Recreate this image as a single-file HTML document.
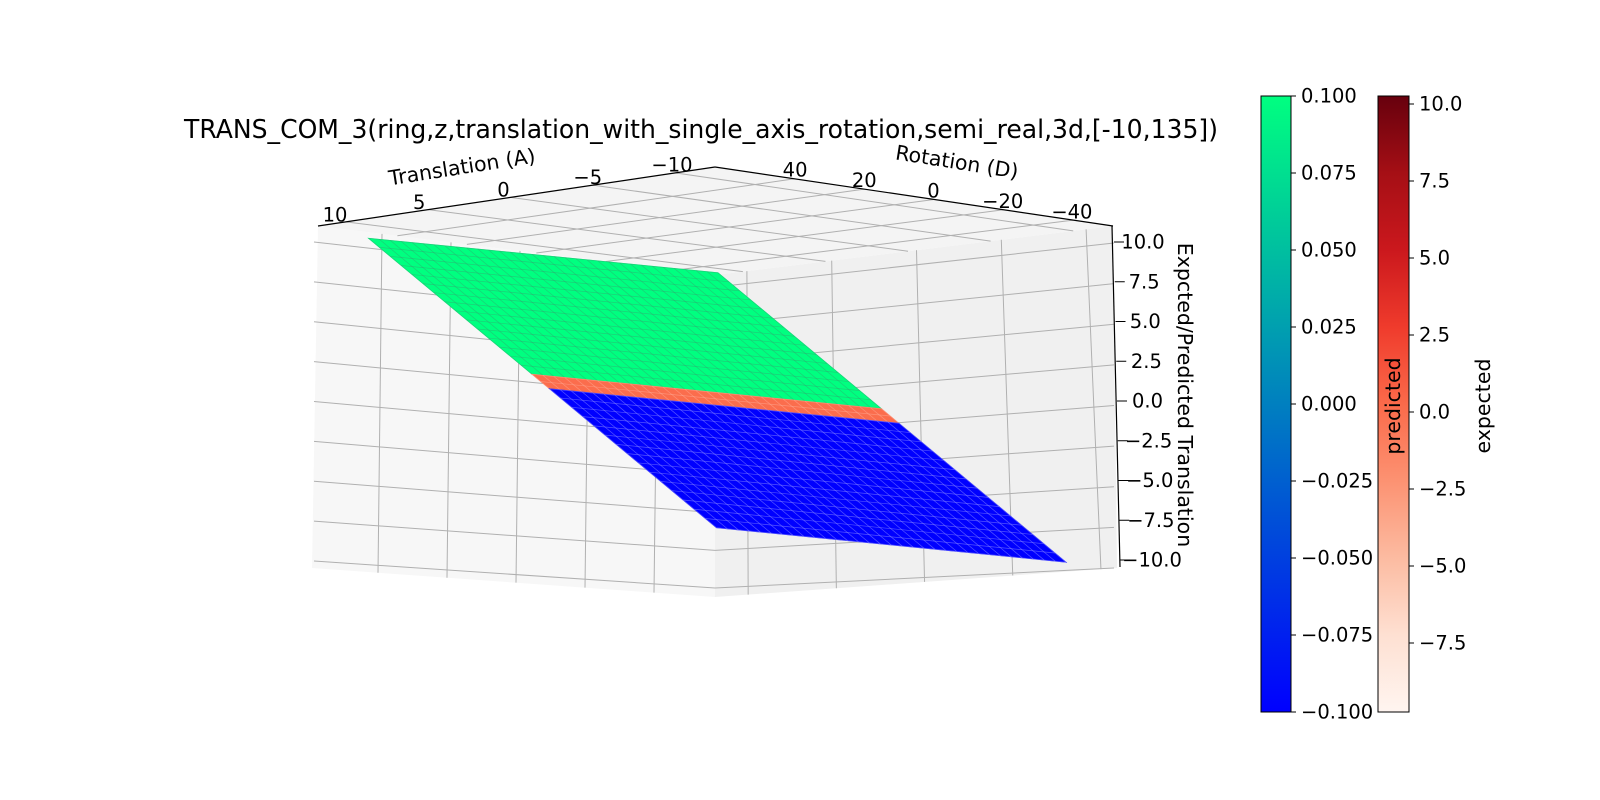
<!DOCTYPE html>
<html><head><meta charset="utf-8"><style>
html,body{margin:0;padding:0;background:#fff;}
svg{display:block;font-family:"DejaVu Sans","Liberation Sans",sans-serif;}
</style></head><body>
<svg id="chart" width="1600" height="800" viewBox="0 0 1600 800" xmlns="http://www.w3.org/2000/svg">
<defs>
<linearGradient id="winterGrad" x1="0" y1="1" x2="0" y2="0">
<stop offset="0" stop-color="#0000ff"/><stop offset="1" stop-color="#00ff80"/>
</linearGradient>
<linearGradient id="redsGrad" x1="0" y1="1" x2="0" y2="0">
<stop offset="0" stop-color="#fff5f0"/><stop offset="0.125" stop-color="#fee0d2"/><stop offset="0.25" stop-color="#fcbba1"/><stop offset="0.375" stop-color="#fc9272"/><stop offset="0.5" stop-color="#fb6a4a"/><stop offset="0.625" stop-color="#ef3b2c"/><stop offset="0.75" stop-color="#cb181d"/><stop offset="0.875" stop-color="#a50f15"/><stop offset="1" stop-color="#67000d"/>
</linearGradient>
</defs>
<text x="701" y="138" font-size="26" text-anchor="middle" textLength="1034" lengthAdjust="spacingAndGlyphs" fill="#000">TRANS_COM_3(ring,z,translation_with_single_axis_rotation,semi_real,3d,[-10,135])</text>
<g id="panes"></g>
<g id="surface"></g>
<g id="axes"></g>
<g id="cbars"></g>
</svg>
<script>
// ---- data ----
const translationTicks = [10, 5, 0, -5, -10];
const rotationTicks = [40, 20, 0, -20, -40];
const zTicks = [10, 7.5, 5, 2.5, 0, -2.5, -5, -7.5, -10];
const zTickLabels = ["10.0","7.5","5.0","2.5","0.0","\u22122.5","\u22125.0","\u22127.5","\u221210.0"];
const predTicks = [0.1, 0.075, 0.05, 0.025, 0, -0.025, -0.05, -0.075, -0.1];
const predTickLabels = ["0.100","0.075","0.050","0.025","0.000","\u22120.025","\u22120.050","\u22120.075","\u22120.100"];
const expTicks = [10, 7.5, 5, 2.5, 0, -2.5, -5, -7.5];
const expTickLabels = ["10.0","7.5","5.0","2.5","0.0","\u22122.5","\u22125.0","\u22127.5"];
// surface rows along translation, with surface heights
const surfaceTranslation = [10, 0.6, -0.4, -10];
const surfaceZ = [10, 0.6, -0.4, -10];
const bandSource = ["predicted", "expected", "predicted"];
const rotationRange = [45, -45];

const NS = "http://www.w3.org/2000/svg";
function mk(tag, attrs, parent){const e=document.createElementNS(NS,tag);for(const k in attrs)e.setAttribute(k,attrs[k]);parent.appendChild(e);return e;}

// ---- projection ----
function P(t, r, z){
  return [717.25 - 17.4*t - 3.883*r, 400.25 + 1.125*t - 0.383*r - 15.6*z];
}
function winter(v){const f=Math.max(0,Math.min(1,(v+0.1)/0.2));return `rgb(0,${Math.round(255*f)},${Math.round(255*(1-f/2))})`;}
const redsStops=[[255,245,240],[254,224,210],[252,187,161],[252,146,114],[251,106,74],[239,59,44],[203,24,29],[165,15,21],[103,0,13]];
function reds(v){let f=(v+9.7)/20;f=Math.max(0,Math.min(1,f))*8;const i=Math.min(7,Math.floor(f)),a=f-i;const c=redsStops[i].map((x,j)=>Math.round(x+(redsStops[i+1][j]-x)*a));return `rgb(${c})`;}

// ---- panes ----
const panes=document.getElementById('panes');
const A=[318,226],B=[715,167],C=[1113,226],D=[715,275];
const LB=[312,568],DB=[715,597],CB=[1117,568];
let e;
e=mk('polygon',{points:[A,D,DB,LB].map(p=>p.join(',')).join(' '),fill:'#f7f7f7'},panes);

e=mk('polygon',{points:[D,C,CB,DB].map(p=>p.join(',')).join(' '),fill:'#f0f0f0'},panes);

e=mk('polygon',{points:[A,B,C,D].map(p=>p.join(',')).join(' '),fill:'#f4f4f4'},panes);

function lerp(p,q,f){return [p[0]+(q[0]-p[0])*f,p[1]+(q[1]-p[1])*f];}
function gl(p,q,name){const l=mk('line',{x1:p[0],y1:p[1],x2:q[0],y2:q[1],stroke:'#b0b0b0','stroke-width':1},panes);}
zTicks.forEach((z,k)=>{
  const f=(10-z)/20;
  const yl=242+319*f, yd=287+301*f, yr=243+325*f;
  gl([314,yl],[715,yd],'left-pane-z-gridline');
  gl([715,yd],[1114,yr],'right-pane-z-gridline');
});
translationTicks.forEach(v=>{
  const x=520-13.8*v; const yt=226+(x-318)*49/397; const xb=x-4; const yb=568+(xb-312)*29/403;
  gl([x,yt],[xb,yb],'left-pane-translation-gridline');
  const u=(10-v)/20*0.83+0.07;
  gl(lerp(A,B,u),lerp(D,C,u),'top-pane-translation-gridline');
});
rotationTicks.forEach(v=>{
  const x=916.5-4.24*v; const yt=275-(x-715)*49/398; const xb=x+(x-715)*0.04; const yb=597-(xb-715)*29/402;
  gl([x,yt],[xb,yb],'right-pane-rotation-gridline');
  const u=(40-v)/80*0.7+0.2;
  gl(lerp(B,C,u),lerp(A,D,u),'top-pane-rotation-gridline');
});
[[A,B,'translation-axis-line'],[B,C,'rotation-axis-line'],[[1112,226],[1120,567],'z-axis-line']].forEach(s=>{
  const l=mk('line',{x1:s[0][0],y1:s[0][1],x2:s[1][0],y2:s[1][1],stroke:'#000','stroke-width':1.2},panes);
  
});

// ---- surface ----
const surf=document.getElementById('surface');
const NR=32;
for(let b=0;b<surfaceTranslation.length-1;b++){
  const t0=surfaceTranslation[b],t1=surfaceTranslation[b+1],z0=surfaceZ[b],z1=surfaceZ[b+1];
  const zm=(z0+z1)/2;
  const fill= bandSource[b]==='expected' ? reds(zm) : winter(zm);
  const r0=rotationRange[0],r1=rotationRange[1];
  const pts=[P(t0,r0,z0),P(t0,r1,z0),P(t1,r1,z1),P(t1,r0,z1)];
  const poly=mk('polygon',{points:pts.map(p=>p.map(v=>v.toFixed(1)).join(',')).join(' '),fill:fill,stroke:fill,'stroke-width':0.8},surf);
  
  
  const g=mk('g',{stroke: zm>0.5?'rgba(60,150,110,0.45)':(zm<-0.5?'rgba(150,150,255,0.55)':'rgba(255,180,160,0.5)'),'stroke-width':0.7},surf);
  
  
  const nt=Math.max(1,Math.round(Math.abs(t1-t0)/0.625));
  for(let i=0;i<=NR;i++){const r=r0+(r1-r0)*i/NR;const p=P(t0,r,z0),q=P(t1,r,z1);mk('line',{x1:p[0],y1:p[1],x2:q[0],y2:q[1]},g);}
  for(let j=0;j<=nt;j++){const f=j/nt;const t=t0+(t1-t0)*f,z=z0+(z1-z0)*f;const p=P(t,r0,z),q=P(t,r1,z);mk('line',{x1:p[0],y1:p[1],x2:q[0],y2:q[1]},g);}
}

// ---- axis labels ----
const ax=document.getElementById('axes');
function txt(s,x,y,size,attrs,name){const t=mk('text',Object.assign({x:x,y:y,'font-size':size,fill:'#000','text-anchor':'middle','dominant-baseline':'central'},attrs||{}),ax);t.textContent=s;return t;}
translationTicks.forEach(v=>{
  txt(v<0?'\u2212'+(-v):String(v),503.5-16.85*v,190+2.5*v,19.5,{},'translation-tick-label');
});
rotationTicks.forEach(v=>{
  txt(v<0?'\u2212'+(-v):String(v),933.5-3.46*v,191-0.525*v,19.5,{},'rotation-tick-label');
});
zTicks.forEach((z,k)=>{
  const y=401-15.9*z;
  const tk=mk('line',{x1:1114+(10-z)*0.3,y1:y,x2:1124+(10-z)*0.3,y2:y,stroke:'#000','stroke-width':1},ax);
  
  txt(zTickLabels[k],1143+(10-z)*0.45,y,19.5,{},'z-tick-label');
});
txt('Translation (A)',462,167,20.5,{transform:'rotate(-8.9 462 167)'},'translation-axis-title');
txt('Rotation (D)',957,162,20.5,{transform:'rotate(9 957 162)'},'rotation-axis-title');
txt('Expcted/Predicted Translation',1185,395,20.5,{transform:'rotate(90 1185 395)'},'z-axis-title');

// ---- colorbars ----
const cb=document.getElementById('cbars');
let r1=mk('rect',{x:1261,y:96,width:30,height:616,fill:'url(#winterGrad)',stroke:'#000','stroke-width':1},cb);

let r2=mk('rect',{x:1378,y:96,width:31,height:616,fill:'url(#redsGrad)',stroke:'#000','stroke-width':1},cb);

function cbt(s,x,y,name){const t=mk('text',{x:x,y:y,'font-size':19.5,fill:'#000','dominant-baseline':'central'},cb);t.textContent=s;}
predTicks.forEach((v,k)=>{const y=404-3080*v;const l=mk('line',{x1:1291,y1:y,x2:1296,y2:y,stroke:'#000'},cb);cbt(predTickLabels[k],1301,y,'predicted-colorbar-tick-label');});
expTicks.forEach((v,k)=>{const y=412-30.8*v;const l=mk('line',{x1:1409,y1:y,x2:1414,y2:y,stroke:'#000'},cb);cbt(expTickLabels[k],1419,y,'expected-colorbar-tick-label');});
let tp=mk('text',{x:1393,y:406,'font-size':20.5,fill:'#000','text-anchor':'middle','dominant-baseline':'central',transform:'rotate(-90 1393 406)'},cb);tp.textContent='predicted';

let te=mk('text',{x:1483,y:406,'font-size':20.5,fill:'#000','text-anchor':'middle','dominant-baseline':'central',transform:'rotate(-90 1483 406)'},cb);te.textContent='expected';

</script>
</body></html>
